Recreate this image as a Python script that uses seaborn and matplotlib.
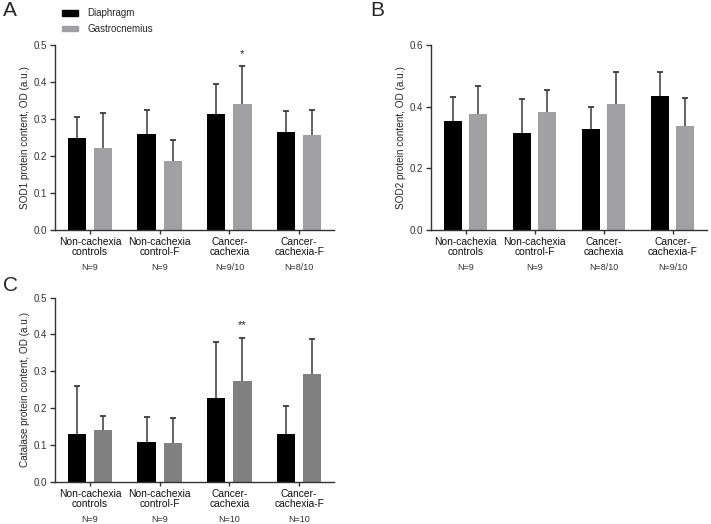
import numpy as np
import pandas as pd
import matplotlib.pyplot as plt
import seaborn as sns
from matplotlib.ticker import FormatStrFormatter

# groups / series
groups = ["Non-cachexia\ncontrols", "Non-cachexia\ncontrol-F", "Cancer-\ncachexia", "Cancer-\ncachexia-F"]
muscles = ["Diaphragm", "Gastrocnemius"]

# SOD1 (panel A)
sod1_dia = [0.250, 0.260, 0.313, 0.264]
sod1_dia_sd = [0.055, 0.064, 0.081, 0.057]
sod1_gas = [0.222, 0.186, 0.340, 0.256]
sod1_gas_sd = [0.094, 0.057, 0.103, 0.069]
sod1_n = ["N=9", "N=9", "N=9/10", "N=8/10"]

# SOD2 (panel B)
sod2_dia = [0.353, 0.315, 0.328, 0.435]
sod2_dia_sd = [0.079, 0.111, 0.072, 0.078]
sod2_gas = [0.375, 0.383, 0.408, 0.337]
sod2_gas_sd = [0.091, 0.072, 0.103, 0.092]
sod2_n = ["N=9", "N=9", "N=8/10", "N=9/10"]

# Catalase (panel C)
cat_dia = [0.129, 0.108, 0.227, 0.131]
cat_dia_sd = [0.130, 0.069, 0.152, 0.076]
cat_gas = [0.140, 0.107, 0.273, 0.294]
cat_gas_sd = [0.040, 0.066, 0.118, 0.094]
cat_n = ["N=9", "N=9", "N=10", "N=10"]

sns.set_theme(style="ticks")
plt.rcParams['font.family'] = ['Liberation Sans', 'DejaVu Sans']

W, H = 711, 524
fig = plt.figure(figsize=(W / 100, H / 100), dpi=100)

def px_axes(left, right, top, bottom):
    return fig.add_axes([left / W, 1 - bottom / H, (right - left) / W, (bottom - top) / H])

def draw_panel(ax, dia, dia_sd, gas, gas_sd, gray, ylabel, ymax, ystep, nlabels, star=None):
    df = pd.DataFrame({
        "group": groups * 2,
        "muscle": [muscles[0]] * 4 + [muscles[1]] * 4,
        "value": dia + gas,
    })
    sns.barplot(data=df, x="group", y="value", hue="muscle", palette=["black", gray],
                width=0.75, gap=0.3, errorbar=None, saturation=1, linewidth=0, ax=ax)
    # upward-only SD bars: stem from bar top, cap only at the upper end
    for cont, sd in zip(ax.containers, [dia_sd, gas_sd]):
        xs = np.array([b.get_x() + b.get_width() / 2 for b in cont])
        ys = np.array([b.get_height() for b in cont])
        ax.vlines(xs, ys, ys + np.array(sd), color="#3a3a3a", linewidth=1.1, zorder=3)
        ax.plot(xs, ys + np.array(sd), linestyle="none", marker="_", markersize=5,
                markeredgewidth=1.3, color="#3a3a3a", zorder=3)
    if star:
        b = ax.containers[1][2]
        ax.annotate(star, xy=(b.get_x() + b.get_width() / 2, gas[2] + gas_sd[2]),
                    xytext=(0, 9), textcoords="offset points", ha="center", va="center",
                    fontsize=8, color="#222")
    ax.set_xlim(-0.5, 3.5)
    ax.set_ylim(0, ymax)
    ax.set_yticks(np.arange(0, ymax + 1e-9, ystep))
    ax.yaxis.set_major_formatter(FormatStrFormatter("%.1f"))
    ax.set_xlabel("")
    ax.set_ylabel(ylabel, fontsize=7.2, labelpad=3)
    ax.legend_.remove()
    sns.despine(ax=ax)
    for s in ["left", "bottom"]:
        ax.spines[s].set_color("#333333")
        ax.spines[s].set_linewidth(1)
    ax.tick_params(axis="y", length=3.5, width=1, colors="#333333", labelsize=7, pad=2)
    ax.tick_params(axis="x", length=3, width=1, colors="#333333", labelsize=7.4, pad=2,
                   labelcolor="#111111")
    for lab in ax.get_xticklabels():
        lab.set_linespacing(1.0)
    for i, n in enumerate(nlabels):
        ax.annotate(n, xy=(i, 0), xycoords=("data", "axes fraction"), xytext=(0, -27),
                    textcoords="offset points", ha="center", va="center", fontsize=6.5,
                    color="#333333")

axA = px_axes(55, 334, 45, 230)
axB = px_axes(431, 707, 45, 230)
axC = px_axes(55, 334, 297.5, 482)

draw_panel(axA, sod1_dia, sod1_dia_sd, sod1_gas, sod1_gas_sd, "#a0a0a3",
           "SOD1 protein content, OD (a.u.)", 0.5, 0.1, sod1_n, star="*")
draw_panel(axB, sod2_dia, sod2_dia_sd, sod2_gas, sod2_gas_sd, "#a0a0a3",
           "SOD2 protein content, OD (a.u.)", 0.6, 0.2, sod2_n)
draw_panel(axC, cat_dia, cat_dia_sd, cat_gas, cat_gas_sd, "#808080",
           "Catalase protein content, OD (a.u.)", 0.5, 0.1, cat_n, star="**")

handles = [plt.Rectangle((0, 0), 1, 1, color="black"), plt.Rectangle((0, 0), 1, 1, color="#a0a0a3")]
fig.legend(handles, muscles, loc="upper left", bbox_to_anchor=(62 / W, 1 - 8.5 / H),
           frameon=False, fontsize=7, borderpad=0, borderaxespad=0,
           handlelength=1.65, handleheight=0.5, handletextpad=0.95, labelspacing=0.55)

fig.text(3 / W, 1 - 1 / H, "A", fontsize=15, va="top", ha="left")
fig.text(370 / W, 1 - 1 / H, "B", fontsize=15, va="top", ha="left")
fig.text(3 / W, 1 - 276 / H, "C", fontsize=15, va="top", ha="left")

fig.savefig("out.png", dpi=100)
